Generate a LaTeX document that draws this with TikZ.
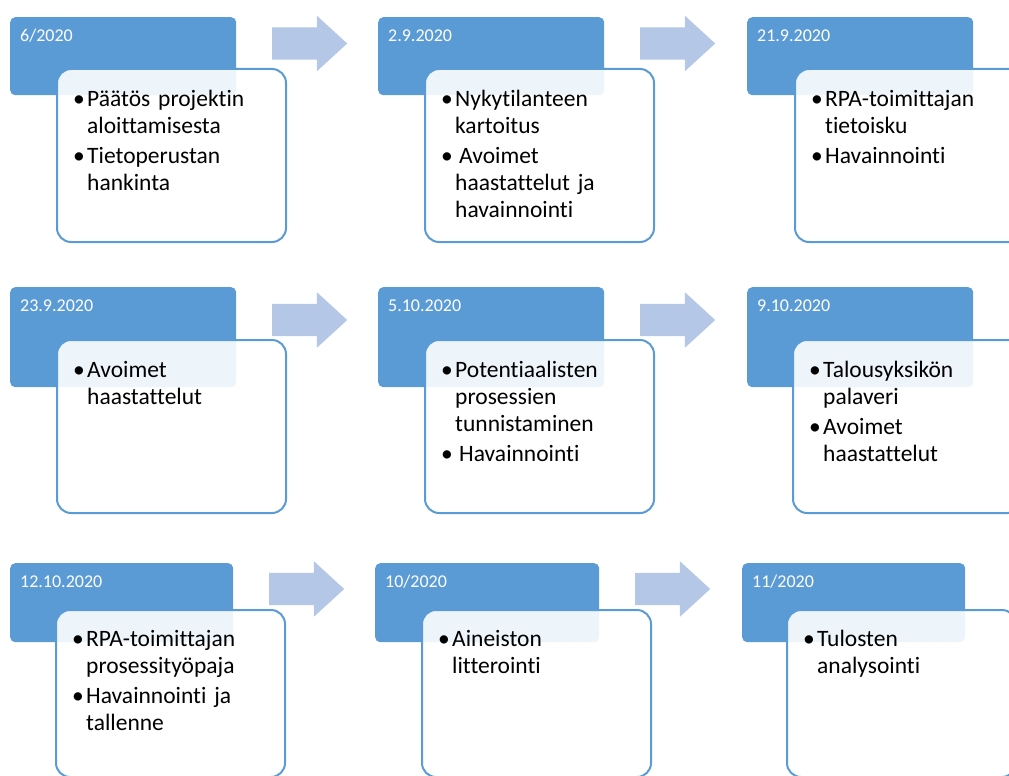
\documentclass[tikz,border=0pt]{standalone}
\usepackage{fontspec}
\setmainfont{Carlito}[Ligatures=NoCommon]
\usetikzlibrary{shapes.arrows}

\definecolor{headblue}{RGB}{91,155,213}
\definecolor{arrowblue}{RGB}{180,199,231}

% one bullet point, with hanging indent for the wrapped lines
\newcommand{\bul}[1]{\hangindent=14pt\hangafter=1\noindent\makebox[14pt][l]{\strut•}#1\par}

\begin{document}
\begin{tikzpicture}[x=1pt, y=-1pt,
    head/.style={fill=headblue, rounded corners=5pt, anchor=north west, inner sep=0pt, minimum width=226pt},
    card/.style={draw=headblue, line width=2pt, fill=white, fill opacity=0.9, rounded corners=14pt, anchor=north west, inner sep=0pt, minimum width=229pt, minimum height=173pt},
    date/.style={anchor=base west, inner sep=0pt, text=white, font=\fontsize{18}{20}\selectfont},
    items/.style={anchor=north west, inner sep=0pt, text width=205pt, align=left, font=\fontsize{23.5}{27}\selectfont\setlength{\parskip}{3pt}},
    next/.style={single arrow, fill=arrowblue, anchor=tail, inner sep=0pt, inner ysep=16pt, minimum height=75pt, single arrow head extend=11.5pt, single arrow tip angle=85}]
  \useasboundingbox (0,0) rectangle (1009,776);

  % row 1
  \node[head, minimum height=78pt] (h1) at (10,17) {};
  \node[card] (c1) at (56,68) {};
  \node[date] (d1) at ([xshift=10pt,yshift=-24.5pt]h1.north west) {6/2020};
  \node[items] (t1) at ([xshift=17pt,yshift=-19pt]c1.north west) {\bul{Päätös projektin\newline aloittamisesta}\bul{Tietoperustan\newline hankinta}};
  \node[next] (a1) at (272,43.5) {};

  \node[head, minimum height=78pt] (h2) at (378,17) {};
  \node[card] (c2) at (424,68) {};
  \node[date] (d2) at ([xshift=10pt,yshift=-24.5pt]h2.north west) {2.9.2020};
  \node[items] (t2) at ([xshift=17pt,yshift=-19pt]c2.north west) {\bul{Nykytilanteen\newline kartoitus}\bul{\hspace{4pt}Avoimet\newline haastattelut ja\newline havainnointi}};
  \node[next] (a2) at (640,43.5) {};

  \node[head, minimum height=78pt] (h3) at (747,17) {};
  \node[card] (c3) at (794,68) {};
  \node[date] (d3) at ([xshift=10pt,yshift=-24.5pt]h3.north west) {21.9.2020};
  \node[items] (t3) at ([xshift=17pt,yshift=-19pt]c3.north west) {\bul{RPA-toimittajan\newline tietoisku}\bul{Havainnointi}};

  % row 2
  \node[head, minimum height=100pt] (h4) at (10,287) {};
  \node[card] (c4) at (56,339) {};
  \node[date] (d4) at ([xshift=10pt,yshift=-24.5pt]h4.north west) {23.9.2020};
  \node[items] (t4) at ([xshift=17pt,yshift=-19pt]c4.north west) {\bul{Avoimet\newline haastattelut}};
  \node[next] (a4) at (272,320) {};

  \node[head, minimum height=100pt] (h5) at (378,287) {};
  \node[card] (c5) at (424,339) {};
  \node[date] (d5) at ([xshift=10pt,yshift=-24.5pt]h5.north west) {5.10.2020};
  \node[items] (t5) at ([xshift=17pt,yshift=-19pt]c5.north west) {\bul{Potentiaalisten\newline prosessien\newline tunnistaminen}\bul{\hspace{4pt}Havainnointi}};
  \node[next] (a5) at (640,320) {};

  \node[head, minimum height=100pt] (h6) at (747,287) {};
  \node[card] (c6) at (792,339) {};
  \node[date] (d6) at ([xshift=10pt,yshift=-24.5pt]h6.north west) {9.10.2020};
  \node[items] (t6) at ([xshift=17pt,yshift=-19pt]c6.north west) {\bul{Talousyksikön\newline palaveri}\bul{Avoimet\newline haastattelut}};

  % row 3
  \node[head, minimum height=79pt, minimum width=223pt] (h7) at (10,563) {};
  \node[card, minimum height=167pt] (c7) at (55,609) {};
  \node[date] (d7) at ([xshift=10pt,yshift=-24.5pt]h7.north west) {12.10.2020};
  \node[items] (t7) at ([xshift=17pt,yshift=-18pt]c7.north west) {\bul{RPA-toimittajan\newline prosessityöpaja}\bul{Havainnointi ja\newline tallenne}};
  \node[next] (a7) at (269,589) {};

  \node[head, minimum height=79pt, minimum width=224pt] (h8) at (375,563) {};
  \node[card, minimum height=167pt] (c8) at (421,609) {};
  \node[date] (d8) at ([xshift=10pt,yshift=-24.5pt]h8.north west) {10/2020};
  \node[items] (t8) at ([xshift=17pt,yshift=-18pt]c8.north west) {\bul{Aineiston\newline litterointi}};
  \node[next] (a8) at (635,589) {};

  \node[head, minimum height=79pt, minimum width=223pt] (h9) at (742,563) {};
  \node[card, minimum height=167pt] (c9) at (786,609) {};
  \node[date] (d9) at ([xshift=10pt,yshift=-24.5pt]h9.north west) {11/2020};
  \node[items] (t9) at ([xshift=17pt,yshift=-18pt]c9.north west) {\bul{Tulosten\newline analysointi}};
\end{tikzpicture}
\end{document}
